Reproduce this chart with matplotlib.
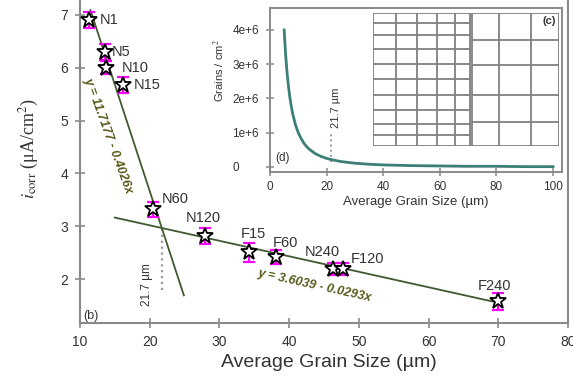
import matplotlib
matplotlib.use("Agg")
import matplotlib.pyplot as plt
import numpy as np

plt.rcParams['font.family'] = ['Liberation Sans', 'DejaVu Sans']
plt.rcParams['mathtext.fontset'] = 'stix'

# main panel (b): corrosion current vs grain size
labels = ['N1', 'N5', 'N10', 'N15', 'N60', 'N120', 'F15', 'F60', 'N240', 'F120', 'F240']
grain = [11.3, 13.6, 13.8, 16.1, 20.5, 28.0, 34.2, 38.1, 46.3, 47.7, 70.0]
icorr = [6.90, 6.30, 6.00, 5.67, 3.32, 2.82, 2.51, 2.42, 2.19, 2.19, 1.58]
icorr_err = [0.15, 0.15, 0.12, 0.15, 0.14, 0.15, 0.18, 0.14, 0.12, 0.12, 0.16]

# linear fits shown on the chart
fit1 = (11.7177, -0.4026)
fit1_x = [11.5, 24.9]
fit2 = (3.6039, -0.0293)
fit2_x = [15.0, 70.0]
d_cross = 21.7

# inset (d): grains per cm2 vs grain size
inset_d = [5, 5.5, 6, 6.5, 7, 7.5, 8, 9, 10, 11, 12, 13, 14, 16, 18, 20, 22, 25,
           30, 35, 40, 50, 60, 70, 80, 90, 100]
inset_n = [4.0, 3.31, 2.78, 2.37, 2.04, 1.78, 1.56, 1.23, 1.0, 0.83, 0.69, 0.59,
           0.51, 0.39, 0.31, 0.25, 0.21, 0.16, 0.11, 0.08, 0.06, 0.04, 0.03,
           0.02, 0.02, 0.01, 0.01]  # x 1e6

# micrograph sketch (c): grid line positions (fractions)
fine_cols = [0, 0.125, 0.237, 0.344, 0.439, 0.520]
fine_rows = [0, 0.075, 0.168, 0.268, 0.386, 0.499, 0.619, 0.732, 0.832, 0.920, 1.0]
coarse_cols = [0.530, 0.677, 0.851, 1.0]
coarse_rows = [0, 0.206, 0.393, 0.619, 0.820, 1.0]

spine_c = '#8a8a8a'
line_c = '#3f5a30'
eq_c = '#5a5a1c'
txt_c = '#333333'

fig = plt.figure(figsize=(5.73, 3.78), dpi=100)
ax = fig.add_axes([0.1396, 0.1455, 0.8517, 0.8545])

ax.plot(fit1_x, [fit1[0] + fit1[1] * x for x in fit1_x], color=line_c, lw=1.3, zorder=2)
ax.plot(fit2_x, [fit2[0] + fit2[1] * x for x in fit2_x], color=line_c, lw=1.3, zorder=2)
y_cross = fit1[0] + fit1[1] * d_cross
ax.plot([d_cross, d_cross], [1.8, y_cross], color='#999999', ls=':', lw=1.6, zorder=1)

ax.errorbar(grain, icorr, yerr=icorr_err, fmt='none', ecolor='#ff00ff',
            elinewidth=1.6, capsize=4, capthick=1.6, zorder=3)
ax.plot(grain, icorr, ls='none', marker='*', ms=12, mfc='white', mec='black',
        mew=1.3, zorder=4)

# label offsets in pixels (dx, dy, ha)
offs = {'N1': (11, 0, 'left'), 'N5': (7, 0, 'left'), 'N10': (15, 0, 'left'),
        'N15': (11, 0, 'left'), 'N60': (9, 10, 'left'), 'N120': (-2, 18, 'center'),
        'F15': (5, 18, 'center'), 'F60': (10, 14, 'center'), 'N240': (-11, 17, 'center'),
        'F120': (8, 10, 'left'), 'F240': (-4, 15, 'center')}
for lab, x, y in zip(labels, grain, icorr):
    dx, dy, ha = offs[lab]
    ax.annotate(lab, (x, y), xytext=(dx, dy), textcoords='offset pixels',
                ha=ha, va='center', fontsize=10.5, color=txt_c)

ax.text(14.0, 4.72, 'y = 11.7177 - 0.4026x', rotation=-70, ha='center', va='center',
        fontsize=9, fontweight='bold', style='italic', color=eq_c)
ax.text(43.7, 1.87, 'y = 3.6039 - 0.0293x', rotation=-12.5, ha='center', va='center',
        fontsize=9, fontweight='bold', style='italic', color=eq_c)
ax.text(19.6, 1.9, '21.7 µm', rotation=90, ha='center', va='center', fontsize=8.5,
        color=txt_c)
ax.text(10.4, 1.3, '(b)', ha='left', va='center', fontsize=9, color=txt_c)

ax.set_xlim(10, 80)
ax.set_ylim(1.17, 7.28)
ax.set_xticks(range(10, 81, 10))
ax.set_yticks(range(2, 8))
ax.tick_params(direction='inout', length=7, width=1.2, color=spine_c,
               labelsize=10, labelcolor=txt_c, pad=5)
for s in ['left', 'bottom', 'right']:
    ax.spines[s].set_color(spine_c)
    ax.spines[s].set_linewidth(1.5)
ax.spines['top'].set_visible(False)

ax.set_xlabel('Average Grain Size (µm)', fontsize=14, color=txt_c)
ax.xaxis.set_label_coords(0.51, -0.095)
ax.set_ylabel(r'$i_{\mathrm{corr}}$ (μA/cm$^{2}$)', fontsize=13, color=txt_c,
              family=['Liberation Serif'])
ax.yaxis.set_label_coords(-0.08, 0.54)

# inset (d)
ins = fig.add_axes([0.4712, 0.545, 0.5096, 0.4339])
ins.plot(inset_d, [v * 1e6 for v in inset_n], color='#3c7f79', lw=2, zorder=3)
ins.plot([d_cross, d_cross], [0.15e6, 1.02e6], color='#999999', ls=':', lw=1.4)
ins.text(23.5, 1.72e6, '21.7 µm', rotation=90, ha='center', va='center',
         fontsize=8, color=txt_c)
ins.text(2.0, 0.25e6, '(d)', ha='left', va='center', fontsize=8.5, color=txt_c)
ins.set_xlim(0, 103.2)
ins.set_ylim(-0.146e6, 4.64e6)
ins.set_xticks(range(0, 101, 20))
ins.set_yticks([0, 1e6, 2e6, 3e6, 4e6])
ins.set_yticklabels(['0', '1e+6', '2e+6', '3e+6', '4e+6'])
ins.tick_params(direction='inout', length=6, width=1.1, color=spine_c,
                labelsize=8.5, labelcolor=txt_c)
ins.tick_params(axis='y', pad=24)
for t in ins.get_yticklabels():
    t.set_horizontalalignment('left')
for s in ins.spines.values():
    s.set_color(spine_c)
    s.set_linewidth(1.4)
ins.set_xlabel('Average Grain Size (µm)', fontsize=9.5, color=txt_c, labelpad=2)
ins.set_ylabel('Grains / cm$^2$', fontsize=8, color=txt_c)
ins.yaxis.set_label_coords(-0.148, 0.62)

# micrograph sketch (c)
gax = fig.add_axes([0.651, 0.614, 0.3246, 0.352])
gax.set_xlim(0, 1)
gax.set_ylim(1, 0)
gax.axis('off')
gc = '#808080'
gax.vlines(fine_cols, 0, 1, color=gc, lw=1.3)
gax.hlines(fine_rows, fine_cols[0], fine_cols[-1], color=gc, lw=1.3)
gax.vlines(coarse_cols, 0, 1, color=gc, lw=1.3)
gax.hlines(coarse_rows, coarse_cols[0], coarse_cols[-1], color=gc, lw=1.3)
gax.text(0.985, 0.02, '(c)', ha='right', va='top', fontsize=8, fontweight='bold',
         color=txt_c)

fig.savefig('out.png', dpi=100)
